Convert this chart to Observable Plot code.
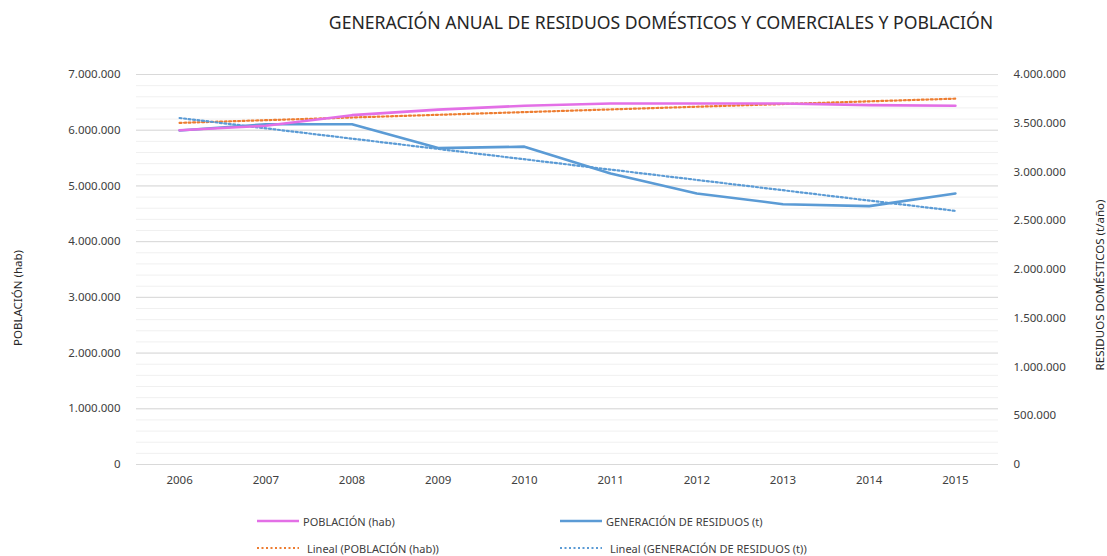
<!DOCTYPE html>
<html>
<head>
<meta charset="utf-8">
<script src="https://cdn.jsdelivr.net/npm/d3@7"></script>
<script src="https://cdn.jsdelivr.net/npm/@observablehq/plot@0.6"></script>
<style>
  body { margin:0; background:#fff; font-family:"Noto Sans", sans-serif; }
  #wrap { position:relative; width:1107px; height:556px; overflow:hidden; }
  #title { position:absolute; left:661px; top:22px; transform:translate(-50%,-50%); font-size:17.6px; color:#262626; white-space:nowrap; }
  #chart { position:absolute; left:0; top:45px; }
  .ylab { position:absolute; font-size:11.5px; color:#262626; white-space:nowrap; transform:translate(-50%,-50%) rotate(-90deg); }
  .leg { position:absolute; font-size:11px; color:#404040; white-space:nowrap; display:flex; align-items:center; }
  .leg svg { margin-right:4px; }
</style>
</head>
<body>
<div id="wrap">
  <div id="title">GENERACIÓN ANUAL DE RESIDUOS DOMÉSTICOS Y COMERCIALES Y POBLACIÓN</div>
  <div id="chart"></div>
  <div class="ylab" style="left:17px; top:298px;">POBLACIÓN (hab)</div>
  <div class="ylab" style="left:1099px; top:285px;">RESIDUOS DOMÉSTICOS (t/año)</div>
  <div id="legend"></div>
</div>
<script>
const years = [2006, 2007, 2008, 2009, 2010, 2011, 2012, 2013, 2014, 2015];
const poblacion = [6000000, 6080000, 6270000, 6370000, 6440000, 6480000, 6480000, 6480000, 6450000, 6440000];
const residuos = [3426000, 3490000, 3490000, 3245000, 3260000, 2985000, 2780000, 2670000, 2650000, 2780000];
const leftTicks = [0, 1000000, 2000000, 3000000, 4000000, 5000000, 6000000, 7000000];
const rightTicks = [0, 500000, 1000000, 1500000, 2000000, 2500000, 3000000, 3500000, 4000000];
const seriesNames = ["POBLACIÓN (hab)", "GENERACIÓN DE RESIDUOS (t)", "Lineal (POBLACIÓN (hab))", "Lineal (GENERACIÓN DE RESIDUOS (t))"];

const leftMax = 7000000, rightMax = 4000000;
const k = leftMax / rightMax;
const fmt = v => d3.format(",")(Math.round(v)).replace(/,/g, ".");
const minorTicks = d3.range(0, leftMax + 1, 200000);

const data = years.map((y, i) => ({year: y, pop: poblacion[i], res: residuos[i] * k}));

const cPop = "#e36fe6", cRes = "#5b9bd5", cPopT = "#ed7d31", cResT = "#5b9bd5";

const chart = Plot.plot({
  width: 1107,
  height: 460,
  marginLeft: 136,
  marginRight: 109,
  marginTop: 29,
  marginBottom: 41,
  style: {fontFamily: "Noto Sans, sans-serif", fontSize: "11.5px", color: "#404040", background: "#fff"},
  x: {domain: [2005.5, 2015.5]},
  y: {domain: [0, leftMax]},
  marks: [
    Plot.ruleY(minorTicks, {stroke: "#f0f0f0", strokeWidth: 1}),
    Plot.ruleY(leftTicks, {stroke: "#d9d9d9", strokeWidth: 1}),
    Plot.axisX({ticks: years, tickFormat: d => String(d), tickSize: 0, tickPadding: 11, label: null, fill: "#404040"}),
    Plot.axisY({ticks: leftTicks, tickFormat: fmt, tickSize: 0, tickPadding: 16, label: null, fill: "#404040"}),
    Plot.axisY({anchor: "right", ticks: rightTicks.map(v => v * k), tickFormat: d => fmt(d / k), tickSize: 0, tickPadding: 15, label: null, fill: "#404040"}),
    Plot.linearRegressionY(data, {x: "year", y: "pop", stroke: cPopT, strokeWidth: 2.2, strokeDasharray: "2,2.5", ci: 0}),
    Plot.linearRegressionY(data, {x: "year", y: "res", stroke: cResT, strokeWidth: 2.2, strokeDasharray: "2,2.5", ci: 0}),
    Plot.line(data, {x: "year", y: "res", stroke: cRes, strokeWidth: 2.6}),
    Plot.line(data, {x: "year", y: "pop", stroke: cPop, strokeWidth: 2.6})
  ]
});
document.getElementById("chart").appendChild(chart);

const legendItems = [
  {name: seriesNames[0], color: cPop, dash: null, left: 257, top: 521},
  {name: seriesNames[1], color: cRes, dash: null, left: 560, top: 521},
  {name: seriesNames[2], color: cPopT, dash: "2,2.5", left: 257, top: 548},
  {name: seriesNames[3], color: cResT, dash: "2,2.5", left: 560, top: 548}
];
const legend = document.getElementById("legend");
for (const it of legendItems) {
  const d = document.createElement("div");
  d.className = "leg";
  d.style.left = it.left + "px";
  d.style.top = (it.top - 8) + "px";
  d.style.height = "16px";
  const w = 42;
  d.innerHTML = `<svg width="${w}" height="6"><line x1="0" x2="${w}" y1="3" y2="3" stroke="${it.color}" stroke-width="${it.dash ? 2 : 2.5}" ${it.dash ? `stroke-dasharray="${it.dash}"` : ""}/></svg><span style="margin-left:${it.dash ? 4 : 0}px">${it.name}</span>`;
  legend.appendChild(d);
}
</script>
</body>
</html>
